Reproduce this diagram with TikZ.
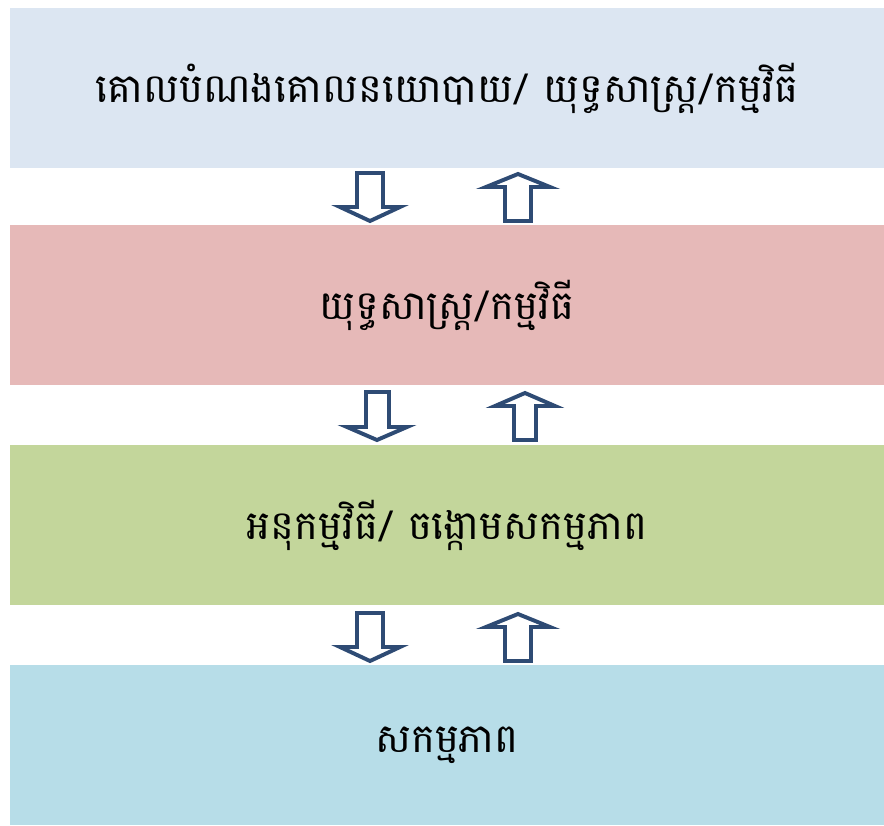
\documentclass[tikz,border=0pt]{standalone}
\usepackage{fontspec}
\usepackage{xcolor}
\newfontfamily\khmerfont[Script=Khmer]{Battambang}
\definecolor{goalblue}{HTML}{DCE6F2}
\definecolor{strategypink}{HTML}{E6B9B8}
\definecolor{subgreen}{HTML}{C3D69B}
\definecolor{actionblue}{HTML}{B7DDE8}
\definecolor{arrowline}{HTML}{2E4B74}
\tikzset{
  levelbox/.style={minimum width=21.85cm, minimum height=4cm, inner sep=0pt,
    font=\khmerfont\fontsize{28.5}{34}\selectfont, text=black},
  blockarrow/.style={draw=arrowline, fill=white, line width=2.8pt, line join=miter}
}

\begin{document}
\begin{tikzpicture}[x=0.025cm, y=-0.025cm]
  \useasboundingbox (0,0) rectangle (884,825);
  % the four levels
  \node[levelbox, fill=goalblue] (goal) at (447,88) {គោលបំណងគោលនយោបាយ/ យុទ្ធសាស្ត្រ/កម្មវិធី};
  \node[levelbox, fill=strategypink] (strategy) at (447,305) {យុទ្ធសាស្ត្រ/កម្មវិធី};
  \node[levelbox, fill=subgreen] (subprog) at (447,525) {អនុកម្មវិធី/ ចង្កោមសកម្មភាព};
  \node[levelbox, fill=actionblue] (action) at (447,745) {សកម្មភាព};
  % arrows between goal and strategy
  \draw[blockarrow] (357,173) -- (383,173) -- (383,207) -- (400,207) -- (370,221) -- (340,207) -- (357,207) -- cycle;
  \draw[blockarrow] (518,174) -- (550,187) -- (531,187) -- (531,221) -- (505,221) -- (505,187) -- (486,187) -- cycle;
  % arrows between strategy and sub-programme
  \draw[blockarrow] (366,392) -- (389,392) -- (389,427) -- (407,427) -- (377,440) -- (347,427) -- (366,427) -- cycle;
  \draw[blockarrow] (525,393) -- (555,406) -- (536,406) -- (536,440) -- (514,440) -- (514,406) -- (495,406) -- cycle;
  % arrows between sub-programme and actions
  \draw[blockarrow] (357,613) -- (383,613) -- (383,647) -- (400,647) -- (370,661) -- (340,647) -- (357,647) -- cycle;
  \draw[blockarrow] (518,614) -- (550,627) -- (531,627) -- (531,661) -- (505,661) -- (505,627) -- (486,627) -- cycle;
\end{tikzpicture}
\end{document}
